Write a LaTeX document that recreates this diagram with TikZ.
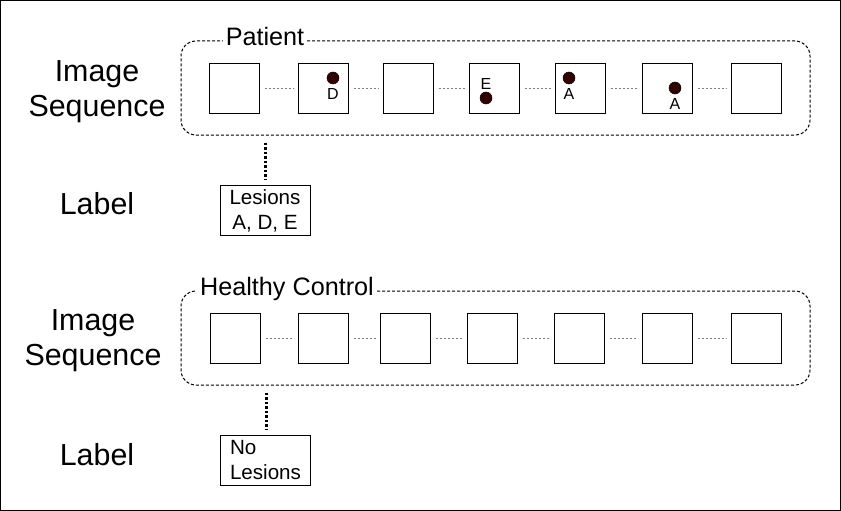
\documentclass[tikz,border=0pt]{standalone}
\usepackage{fontspec}
\setmainfont{Liberation Sans}
\definecolor{lesioncol}{HTML}{330000}
\begin{document}
\begin{tikzpicture}[x=1pt,y=-1pt,
  frame/.style={draw=black, minimum width=50pt, minimum height=50pt, inner sep=0pt, line width=1pt, fill=white},
  group/.style={draw=black, dash pattern=on 3pt off 2pt, rounded corners=15pt, line width=1pt, minimum width=629pt, minimum height=94pt, inner sep=0pt},
  grouplabel/.style={fill=white, inner sep=3pt, font=\fontsize{25.2}{30}\selectfont},
  link/.style={draw=gray, line width=0.8pt, dash pattern=on 2pt off 2pt, shorten <=5pt, shorten >=4pt},
  vlink/.style={draw=black, line width=3pt, dash pattern=on 2.5pt off 2pt, shorten <=7pt, shorten >=6pt},
  lesion/.style={circle, fill=lesioncol, draw=black, line width=0.5pt, minimum size=12pt, inner sep=0pt},
  letter/.style={font=\fontsize{16}{19}\selectfont, inner sep=0pt},
  rowlabel/.style={align=center, font=\fontsize{30.4}{35}\selectfont, inner sep=0pt},
  labelbox/.style={draw=black, line width=1pt, minimum width=90pt, minimum height=50pt, inner sep=0pt, fill=white, font=\fontsize{20.6}{25}\selectfont}
]
\useasboundingbox (0,0) rectangle (841,511);
\node[draw=black, line width=1pt, minimum width=840pt, minimum height=510pt, inner sep=0pt] (border) at (420.5,255.5) {};

% ---------- Patient ----------
\node[group] (g1) at (495.5,88) {};
\node[grouplabel] (g1lab) at (265,36) {Patient};
\node[rowlabel] (is1) at (97,91.5) {Image\\Sequence};
\node[rowlabel] (lb1) at (97,204) {Label};

\node[frame] (p1) at (234,88.5) {};
\node[frame] (p2) at (323,88.5) {};
\node[frame] (p3) at (408,88.5) {};
\node[frame] (p4) at (494,88.5) {};
\node[frame] (p5) at (580,88.5) {};
\node[frame] (p6) at (667,88.5) {};
\node[frame] (p7) at (756,88.5) {};
\foreach \a/\b in {p1/p2,p2/p3,p3/p4,p4/p5,p5/p6,p6/p7}
  \draw[link] (\a.east) -- (\b.west);

\node[lesion] (d2) at (333,78) {};
\node[letter] (t2) at (333,94) {D};
\node[letter] (t4) at (486,84) {E};
\node[lesion] (d4) at (486,98) {};
\node[lesion] (d5) at (569,78) {};
\node[letter] (t5) at (569,94) {A};
\node[lesion] (d6) at (675,88) {};
\node[letter] (t6) at (675,104) {A};

\node[labelbox, align=center] (lab1) at (265,210.5) {Lesions\\A, D, E};
\draw[vlink] (lab1.north |- g1.south) -- (lab1.north);

% ---------- Healthy Control ----------
\node[group] (g2) at (495.5,338) {};
\node[grouplabel] (g2lab) at (287,289) {Healthy Control};
\node[rowlabel] (is2) at (93,341) {Image\\Sequence};
\node[rowlabel] (lb2) at (97,455) {Label};

\node[frame] (h1) at (235,338) {};
\node[frame] (h2) at (323,338) {};
\node[frame] (h3) at (405,338) {};
\node[frame] (h4) at (492,338) {};
\node[frame] (h5) at (579,338) {};
\node[frame] (h6) at (667,338) {};
\node[frame] (h7) at (756,338) {};
\foreach \a/\b in {h1/h2,h2/h3,h3/h4,h4/h5,h5/h6,h6/h7}
  \draw[link] (\a.east) -- (\b.west);

\node[labelbox, align=left, text width=70pt] (lab2) at (265,460.5) {No\\Lesions};
\draw[vlink] ([xshift=1pt]lab2.north |- g2.south) -- ([xshift=1pt]lab2.north);
\end{tikzpicture}
\end{document}
